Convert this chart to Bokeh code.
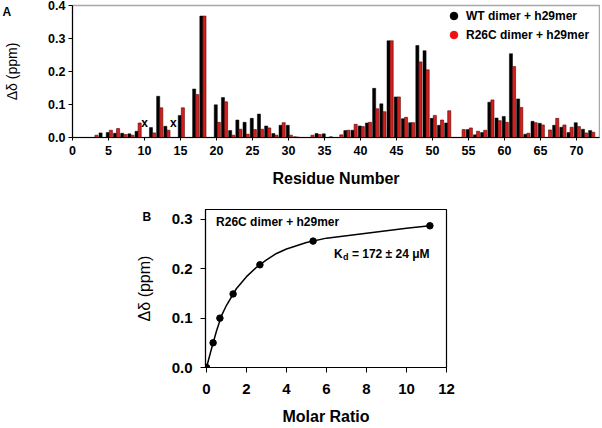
import math
from bokeh.plotting import figure
from bokeh.models import (Range1d, Label, Legend, LegendItem, FixedTicker,
                          NumeralTickFormatter, ColumnDataSource)
from bokeh.embed import file_html
from bokeh.resources import INLINE
from bokeh.core.properties import value

NaN = float("nan")
FONT = "Liberation Sans"

# ---------------- Panel A data ----------------
residues = list(range(1, 73))
wt_shift = [NaN, NaN, NaN, 0.014, 0.015, 0.013, 0.013, 0.011, 0.019, NaN,
            0.030, 0.125, 0.034, NaN, 0.067, NaN, 0.147, 0.368, NaN, 0.099,
            0.121, 0.021, 0.053, 0.046, 0.058, 0.071, 0.035, 0.012, 0.037, 0.037,
            0.002, NaN, NaN, 0.012, 0.011, 0.002, NaN, 0.021, 0.022, 0.035,
            0.044, 0.149, 0.102, 0.293, 0.123, 0.057, 0.045, 0.279, 0.263, 0.058,
            0.037, 0.044, NaN, NaN, 0.024, 0.008, 0.015, 0.107, 0.059, 0.064,
            0.254, 0.117, 0.010, 0.049, 0.043, NaN, 0.037, 0.031, 0.015, 0.045,
            0.025, 0.021]
r26c_shift = [NaN, NaN, 0.007, NaN, 0.022, 0.027, 0.009, 0.007, 0.044, NaN,
              0.014, 0.090, 0.022, NaN, 0.090, NaN, 0.130, 0.368, NaN, 0.046,
              0.108, 0.007, 0.025, 0.010, 0.024, 0.025, 0.029, 0.007, 0.045, 0.007,
              0.001, NaN, 0.007, 0.009, NaN, NaN, 0.008, 0.022, 0.040, 0.033,
              0.046, 0.087, 0.078, 0.293, 0.123, 0.061, 0.045, 0.229, 0.205, 0.067,
              0.053, 0.081, NaN, 0.024, 0.029, 0.019, 0.022, 0.114, 0.051, 0.046,
              0.215, 0.091, 0.013, 0.045, 0.038, 0.023, 0.058, 0.038, 0.031, 0.033,
              0.014, 0.016]
unassigned = [10, 14]
unassigned_level = [0.043, 0.043]
x_ticks_a = list(range(0, 75, 5))
y_ticks_a = [0.0, 0.1, 0.2, 0.3, 0.4]
legend_labels = ["WT dimer + h29mer", "R26C dimer + h29mer"]

# ---------------- Panel B data ----------------
molar_ratio = [0.0, 0.33, 0.67, 1.33, 2.67, 5.33, 11.17]
shift_b = [0.0, 0.050, 0.100, 0.149, 0.208, 0.256, 0.287]
fit_ratio = [0.0, 0.25, 0.5, 0.75, 1.0, 1.5, 2.0, 2.5, 3.0, 3.5, 4.0, 5.0,
             6.0, 7.0, 8.0, 9.0, 10.0, 11.17]
fit_shift = [0.0, 0.038, 0.074, 0.105, 0.126, 0.160, 0.184, 0.203, 0.218,
             0.231, 0.240, 0.253, 0.262, 0.267, 0.272, 0.277, 0.282, 0.287]
x_ticks_b = [0, 2, 4, 6, 8, 10, 12]
y_ticks_b = [0.0, 0.1, 0.2, 0.3]

BLACK = "#000000"
RED = "#d41f1f"


def style_axes(p, tick_size, title_size, ylab_size, out_x, out_y,
               lab_std_x, lab_std_y, title_std_x, title_std_y):
    for ax in (p.xaxis[0], p.yaxis[0]):
        ax.axis_line_color = "black"
        ax.axis_line_width = 1.1
        ax.major_tick_line_color = "black"
        ax.major_tick_in = 0
        ax.minor_tick_line_color = None
        ax.major_label_text_font = FONT
        ax.major_label_text_font_style = "bold"
        ax.major_label_text_font_size = tick_size
        ax.major_label_text_color = "black"
        ax.axis_label_text_font = FONT
        ax.axis_label_text_color = "black"
    p.xaxis[0].major_tick_out = out_x
    p.yaxis[0].major_tick_out = out_y
    p.xaxis[0].major_label_standoff = lab_std_x
    p.yaxis[0].major_label_standoff = lab_std_y
    p.xaxis[0].axis_label_standoff = title_std_x
    p.yaxis[0].axis_label_standoff = title_std_y
    p.xaxis[0].axis_label_text_font_style = "bold"
    p.xaxis[0].axis_label_text_font_size = title_size
    p.yaxis[0].axis_label_text_font_style = "normal"
    p.yaxis[0].axis_label_text_font_size = ylab_size
    p.xgrid.grid_line_color = None
    p.ygrid.grid_line_color = None


def panel_letter(p, text, offset, standoff):
    # the figure's own title, pulled down beside the top of the frame
    p.title.text = text
    p.title.align = "left"
    p.title.offset = offset
    p.title.standoff = standoff
    p.title.text_font = FONT
    p.title.text_font_style = "bold"
    p.title.text_font_size = "12px"
    p.title.text_color = "black"


# ---------------- Panel A ----------------
p1 = figure(width=600, height=190, x_range=Range1d(0, 73.2), y_range=Range1d(0, 0.4),
            output_backend="svg", toolbar_location=None,
            min_border_left=72, min_border_right=1, min_border_top=5,
            min_border_bottom=53, x_axis_label="Residue Number",
            y_axis_label="Δδ (ppm)")
p1.outline_line_color = "#a8a8a8"
p1.outline_line_width = 1.5

wt_src = ColumnDataSource(dict(
    x=[r - 0.1 for r, v in zip(residues, wt_shift) if not math.isnan(v)],
    top=[v for v in wt_shift if not math.isnan(v)]))
r26_src = ColumnDataSource(dict(
    x=[r + 0.33 for r, v in zip(residues, r26c_shift) if not math.isnan(v)],
    top=[v for v in r26c_shift if not math.isnan(v)]))

p1.vbar(x="x", top="top", bottom=0, width=0.43, source=wt_src,
        fill_color=BLACK, line_color=BLACK, line_width=0.5)
p1.vbar(x="x", top="top", bottom=0, width=0.43, source=r26_src,
        fill_color=RED, line_color="#5a0000", line_width=0.6)

p1.text(x=unassigned, y=unassigned_level, text=["x"] * len(unassigned),
        text_font=value(FONT), text_font_style="bold", text_font_size="12px",
        text_align="center", text_baseline="middle", text_color="black")

p1.xaxis[0].ticker = FixedTicker(ticks=x_ticks_a)
p1.yaxis[0].ticker = FixedTicker(ticks=y_ticks_a)
p1.yaxis[0].formatter = NumeralTickFormatter(format="0.0")
style_axes(p1, "12.5px", "16px", "14px", 3, 4, 5, 3, 12, 25)

lw = p1.scatter(x=[NaN], y=[NaN], size=10, marker="circle", fill_color=BLACK,
                line_color=BLACK)
lr = p1.scatter(x=[NaN], y=[NaN], size=10, marker="circle", fill_color="#f01010",
                line_color="#f01010")
legend = Legend(items=[LegendItem(label=legend_labels[0], renderers=[lw]),
                       LegendItem(label=legend_labels[1], renderers=[lr])],
                location=(369, 93), orientation="vertical",
                glyph_width=25, glyph_height=19, spacing=0, label_standoff=0,
                padding=0, margin=0, border_line_alpha=0, background_fill_alpha=0,
                label_text_font=FONT, label_text_font_style="bold",
                label_text_font_size="12px", label_text_color="black",
                label_height=19)
p1.add_layout(legend)
panel_letter(p1, "A", -70, -27)

# ---------------- Panel B ----------------
p2 = figure(width=600, height=237, x_range=Range1d(-0.05, 12.0), y_range=Range1d(0, 0.32),
            output_backend="svg", toolbar_location=None,
            min_border_left=205, min_border_right=154, min_border_top=19,
            min_border_bottom=57, x_axis_label="Molar Ratio",
            y_axis_label="Δδ (ppm)")
p2.outline_line_color = "black"
p2.outline_line_width = 1.2

p2.line(fit_ratio, fit_shift, line_color="black", line_width=1.5)
p2.scatter(molar_ratio, shift_b, size=6.5, marker="circle", fill_color="black",
           line_color="black")

p2.xaxis[0].ticker = FixedTicker(ticks=x_ticks_b)
p2.yaxis[0].ticker = FixedTicker(ticks=y_ticks_b)
p2.yaxis[0].formatter = NumeralTickFormatter(format="0.0")
style_axes(p2, "15px", "16px", "16px", 5, 5, 11, 8, 11, 16)

panel_letter(p2, "B", -63, -28)

p2.add_layout(Label(x=0.48, y=0.295, text="R26C dimer + h29mer", text_font=FONT,
                    text_font_style="bold", text_font_size="12px",
                    text_baseline="middle", text_align="left", text_color="black"))
p2.add_layout(Label(x=6.37, y=0.229, text="K", text_font=FONT, text_font_style="bold",
                    text_font_size="12px", text_baseline="middle", text_align="left",
                    text_color="black"))
p2.add_layout(Label(x=6.37, y=0.229, x_offset=9, y_offset=-3, text="d", text_font=FONT,
                    text_font_style="bold", text_font_size="9px",
                    text_baseline="middle", text_align="left", text_color="black"))
p2.add_layout(Label(x=6.37, y=0.229, x_offset=18, text="= 172 ± 24 μM", text_font=FONT,
                    text_font_style="bold", text_font_size="12px",
                    text_baseline="middle", text_align="left", text_color="black"))

open("out.html", "w").write(file_html([p1, p2], INLINE))
